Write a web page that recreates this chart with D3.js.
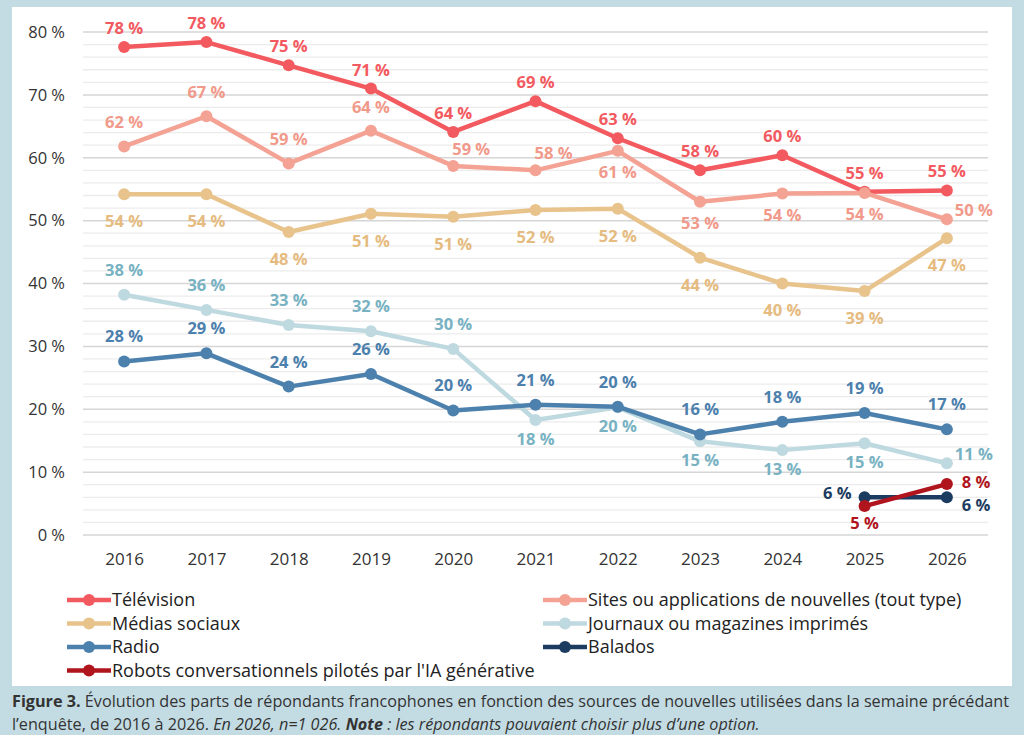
<!DOCTYPE html>
<html>
<head>
<meta charset="utf-8">
<script src="https://cdn.jsdelivr.net/npm/d3@7/dist/d3.min.js"></script>
<style>
  html, body { margin: 0; padding: 0; background: #c3dce3; }
  svg { display: block; font-family: "Open Sans", "Noto Sans", sans-serif; }
</style>
</head>
<body>
<svg id="chart" width="1024" height="735"></svg>
<script>
// ---------- DATA ----------
const years = [2016, 2017, 2018, 2019, 2020, 2021, 2022, 2023, 2024, 2025, 2026];
const yTicks = [0, 10, 20, 30, 40, 50, 60, 70, 80];

const television   = [77.6, 78.4, 74.7, 71.0, 64.1, 69.0, 63.1, 58.0, 60.4, 54.6, 54.8];
const sites        = [61.8, 66.6, 59.1, 64.3, 58.7, 58.0, 61.1, 53.0, 54.3, 54.4, 50.2];
const mediasSociaux= [54.2, 54.2, 48.2, 51.1, 50.6, 51.7, 51.9, 44.1, 40.0, 38.8, 47.2];
const journaux     = [38.2, 35.8, 33.4, 32.4, 29.6, 18.3, 20.3, 14.9, 13.5, 14.6, 11.4];
const radio        = [27.6, 28.9, 23.6, 25.6, 19.8, 20.7, 20.4, 16.0, 18.0, 19.4, 16.8];
const balados      = [null, null, null, null, null, null, null, null, null, 6.0, 6.0];
const robots       = [null, null, null, null, null, null, null, null, null, 4.6, 8.1];

const televisionLabels    = ["78 %","78 %","75 %","71 %","64 %","69 %","63 %","58 %","60 %","55 %","55 %"];
const sitesLabels         = ["62 %","67 %","59 %","64 %","59 %","58 %","61 %","53 %","54 %","54 %","50 %"];
const mediasSociauxLabels = ["54 %","54 %","48 %","51 %","51 %","52 %","52 %","44 %","40 %","39 %","47 %"];
const journauxLabels      = ["38 %","36 %","33 %","32 %","30 %","18 %","20 %","15 %","13 %","15 %","11 %"];
const radioLabels         = ["28 %","29 %","24 %","26 %","20 %","21 %","20 %","16 %","18 %","19 %","17 %"];
const baladosLabels       = [null,null,null,null,null,null,null,null,null,"6 %","6 %"];
const robotsLabels        = [null,null,null,null,null,null,null,null,null,"5 %","8 %"];

// label placement names (not coordinates)
const televisionPlace    = Array(11).fill("above");
const sitesPlace         = ["above","above","above","above","aboveRight","aboveRight","below","below","below","below","rightUp"];
const mediasSociauxPlace = Array(11).fill("below");
const journauxPlace      = ["above","above","above","above","above","below","below","below","below","below","rightUp"];
const radioPlace         = Array(11).fill("above");
const baladosPlace       = [null,null,null,null,null,null,null,null,null,"left","rightDown"];
const robotsPlace        = [null,null,null,null,null,null,null,null,null,"below","right"];

const seriesNames = ["Télévision", "Sites ou applications de nouvelles (tout type)", "Médias sociaux",
  "Journaux ou magazines imprimés", "Radio", "Balados", "Robots conversationnels pilotés par l'IA générative"];

// ---------- STYLE ----------
const series = [
  {name: seriesNames[0], values: television,    labels: televisionLabels,    place: televisionPlace,    color: "#f25a5f", lab: "#f25a5f", above: 19, below: 21},
  {name: seriesNames[1], values: sites,         labels: sitesLabels,         place: sitesPlace,         color: "#f3a294", lab: "#f1998a", above: 24, below: 21},
  {name: seriesNames[2], values: mediasSociaux, labels: mediasSociauxLabels, place: mediasSociauxPlace, color: "#e8c38c", lab: "#e5bb80", above: 23, below: 27},
  {name: seriesNames[3], values: journaux,      labels: journauxLabels,      place: journauxPlace,      color: "#bed9df", lab: "#78b2c2", above: 25, below: 19},
  {name: seriesNames[4], values: radio,         labels: radioLabels,         place: radioPlace,         color: "#4c80ad", lab: "#4c80ad", above: 25, below: 21},
  {name: seriesNames[5], values: balados,       labels: baladosLabels,       place: baladosPlace,       color: "#1b3b60", lab: "#1b3b60", above: 22, below: 21},
  {name: seriesNames[6], values: robots,        labels: robotsLabels,        place: robotsPlace,        color: "#b0141d", lab: "#b0141d", above: 22, below: 17}
];

const svg = d3.select("#chart");
// white panel
svg.append("rect").attr("x", 12).attr("y", 7).attr("width", 1000).attr("height", 679).attr("fill", "#ffffff");

const x = d3.scalePoint().domain(years).range([83, 988]).padding(0.5);
const y = d3.scaleLinear().domain([0, 80]).range([535, 32]);

// gridlines
const minor = d3.range(0, 81, 2).filter(v => v % 10 !== 0);
svg.append("g").selectAll("line").data(minor).join("line")
  .attr("x1", 83).attr("x2", 988)
  .attr("y1", d => y(d)).attr("y2", d => y(d))
  .attr("stroke", "#ececec").attr("stroke-width", 1.3);
svg.append("g").selectAll("line").data(yTicks).join("line")
  .attr("x1", 83).attr("x2", 988)
  .attr("y1", d => y(d)).attr("y2", d => y(d))
  .attr("stroke", "#d6d6d6").attr("stroke-width", 1.5);

// y axis
const yAxis = svg.append("g").attr("transform", "translate(83,0)")
  .call(d3.axisLeft(y).tickValues(yTicks).tickSize(0).tickPadding(18).tickFormat(d => d + " %"));
yAxis.select(".domain").remove();
yAxis.selectAll("text").attr("font-size", 16.5).attr("fill", "#333").attr("font-family", "Open Sans");

// x axis
const xAxis = svg.append("g").attr("transform", "translate(0,535)")
  .call(d3.axisBottom(x).tickSize(0).tickPadding(18));
xAxis.select(".domain").remove();
xAxis.selectAll("text").attr("font-size", 17).attr("fill", "#333").attr("font-family", "Open Sans");

// lines & markers
const line = d3.line().defined(d => d.v != null).x(d => x(d.year)).y(d => y(d.v));
series.forEach(s => {
  const pts = years.map((yr, i) => ({year: yr, v: s.values[i]}));
  const g = svg.append("g");
  g.append("path").datum(pts).attr("d", line)
    .attr("fill", "none").attr("stroke", s.color).attr("stroke-width", 4.5)
    .attr("stroke-linejoin", "round").attr("stroke-linecap", "round");
  g.selectAll("circle").data(pts.filter(d => d.v != null)).join("circle")
    .attr("cx", d => x(d.year)).attr("cy", d => y(d.v)).attr("r", 6).attr("fill", s.color);
});

// labels
const labG = svg.append("g").attr("font-weight", 700).attr("font-size", 16.5);
series.forEach(s => {
  years.forEach((yr, i) => {
    if (s.values[i] == null) return;
    const px = x(yr), py = y(s.values[i]);
    const p = s.place[i];
    let lx = px, ly = py, anchor = "middle";
    if (p === "above") ly = py - s.above;
    else if (p === "below") ly = py + s.below;
    else if (p === "aboveRight") { lx = px + 18; ly = py - 17; }
    else if (p === "right") { lx = px + 15; ly = py - 2; anchor = "start"; }
    else if (p === "rightUp") { lx = px + 8; ly = py - 9; anchor = "start"; }
    else if (p === "rightDown") { lx = px + 15; ly = py + 8; anchor = "start"; }
    else if (p === "left") { lx = px - 13; ly = py - 4; anchor = "end"; }
    labG.append("text").attr("x", lx).attr("y", ly).attr("dy", "0.36em")
      .attr("text-anchor", anchor).attr("fill", s.lab).text(s.labels[i]);
  });
});

// legend
const legendOrder = [[0, 0, 0], [2, 0, 1], [4, 0, 2], [6, 0, 3], [1, 1, 0], [3, 1, 1], [5, 1, 2]];
const colX = [67, 543];
const rowY = [600, 623.5, 647, 670.5];
const lg = svg.append("g");
legendOrder.forEach(([si, c, r]) => {
  const s = series[si];
  const gx = colX[c], gy = rowY[r];
  lg.append("line").attr("x1", gx).attr("x2", gx + 44).attr("y1", gy).attr("y2", gy)
    .attr("stroke", s.color).attr("stroke-width", 4.5);
  lg.append("circle").attr("cx", gx + 22).attr("cy", gy).attr("r", 6).attr("fill", s.color);
  lg.append("text").attr("x", gx + 45).attr("y", gy).attr("dy", "0.35em")
    .attr("font-size", 18).attr("fill", "#222").text(s.name);
});

// caption
const cap = svg.append("g").attr("font-size", 16.2).attr("fill", "#333");
const t1 = cap.append("text").attr("x", 12).attr("y", 707);
t1.append("tspan").attr("font-weight", 700).text("Figure 3.");
t1.append("tspan").text(" Évolution des parts de répondants francophones en fonction des sources de nouvelles utilisées dans la semaine précédant");
const t2 = cap.append("text").attr("x", 12).attr("y", 730);
t2.append("tspan").text("l’enquête, de 2016 à 2026. ");
t2.append("tspan").attr("font-style", "italic").text("En 2026, n=1 026. ");
t2.append("tspan").attr("font-style", "italic").attr("font-weight", 700).text("Note");
t2.append("tspan").attr("font-style", "italic").text(" : les répondants pouvaient choisir plus d’une option.");
</script>
</body>
</html>
